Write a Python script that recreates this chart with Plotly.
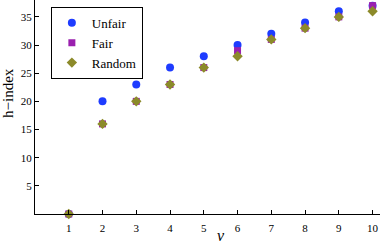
import plotly.graph_objects as go

nu = [1, 2, 3, 4, 5, 6, 7, 8, 9, 10]
unfair = [0, 20, 23, 26, 28, 30, 32, 34, 36, 37]
fair = [0, 16, 20, 23, 26, 29, 31, 33, 35, 37]
random_ = [0, 16, 20, 23, 26, 28, 31, 33, 35, 36]
yticks = [5, 10, 15, 20, 25, 30, 35]

FONT = "Liberation Serif, Times New Roman, serif"

fig = go.Figure()
fig.add_trace(go.Scatter(x=nu, y=unfair, mode="markers", name="Unfair",
                         marker=dict(symbol="circle", size=8, color="#1e3cff"),
                         cliponaxis=False))
fig.add_trace(go.Scatter(x=nu, y=fair, mode="markers", name="Fair",
                         marker=dict(symbol="square", size=7, color="#9a20ae"),
                         cliponaxis=False))
fig.add_trace(go.Scatter(x=nu, y=random_, mode="markers", name="Random",
                         marker=dict(symbol="diamond", size=8, color="#8c8a2a"),
                         cliponaxis=False))

fig.update_layout(
    width=380, height=244,
    margin=dict(l=35, r=0, t=0, b=30),
    paper_bgcolor="white", plot_bgcolor="white",
    font=dict(family=FONT, size=11, color="black"),
    showlegend=True,
    legend=dict(x=0.046, y=0.968, xanchor="left", yanchor="top",
                bgcolor="white", bordercolor="black", borderwidth=1,
                font=dict(family=FONT, size=13, color="black"),
                itemwidth=30, tracegroupgap=0),
    xaxis=dict(range=[0, 10.22], tickvals=nu, showgrid=False, zeroline=False,
               showline=True, linecolor="black", linewidth=1,
               ticks="inside", ticklen=4, tickcolor="black",
               ticklabelstandoff=4,
               tickfont=dict(family=FONT, size=11, color="black")),
    yaxis=dict(range=[0, 38], tickvals=yticks, showgrid=False, zeroline=False,
               showline=True, linecolor="black", linewidth=1,
               ticks="inside", ticklen=4, tickcolor="black",
               tickfont=dict(family=FONT, size=11, color="black")),
    annotations=[
        dict(text="h\u2212index", xref="paper", yref="paper",
             x=(8 - 35) / 345, y=1 - 93 / 214, textangle=-90,
             xanchor="center", yanchor="middle",
             showarrow=False, font=dict(family=FONT, size=15, color="black")),
        dict(text="<i>\u03bd</i>", xref="paper", yref="paper",
             x=(221 - 35) / 345, y=-(236 - 214) / 214,
             xanchor="center", yanchor="middle",
             showarrow=False, font=dict(family=FONT, size=16, color="black")),
    ],
)

fig.write_html("out.html")
